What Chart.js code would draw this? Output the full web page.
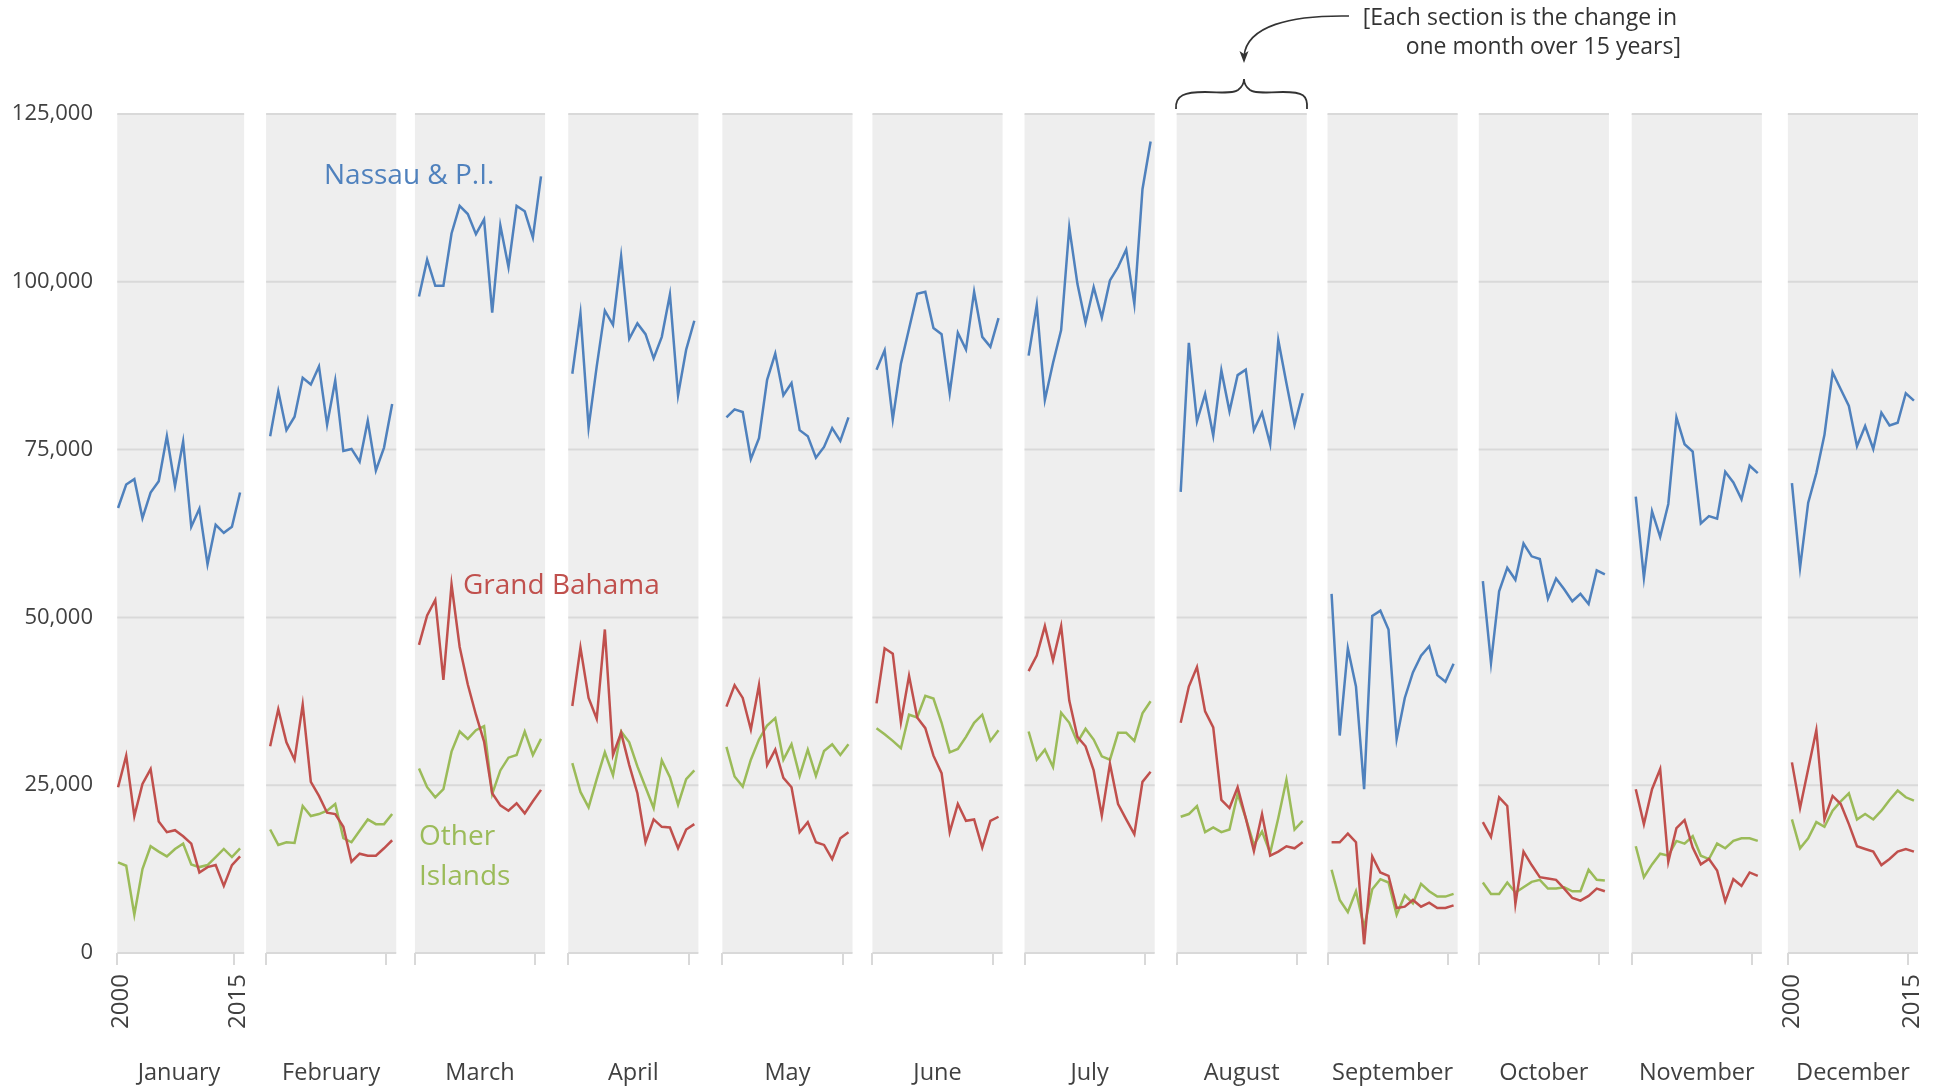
<!DOCTYPE html>
<html>
<head>
<meta charset="utf-8">
<script src="https://cdn.jsdelivr.net/npm/chart.js@4.4.1/dist/chart.umd.min.js"></script>
<style>
  html, body { margin: 0; padding: 0; background: #fff; }
  #wrap { position: relative; width: 1933px; height: 1090px; }
</style>
</head>
<body>
<div id="wrap"><canvas id="chart" width="1933" height="1090"></canvas></div>
<script>
// ------------------------------------------------------------
// Visitors by month, 2000-2015, one panel per month
// ------------------------------------------------------------
const MONTHS = ['January', 'February', 'March', 'April', 'May', 'June',
  'July', 'August', 'September', 'October', 'November', 'December'];
const YEARS = [2000, 2001, 2002, 2003, 2004, 2005, 2006, 2007,
  2008, 2009, 2010, 2011, 2012, 2013, 2014, 2015];
const Y_TICKS = [0, 25000, 50000, 75000, 100000, 125000];

// one row per month, 16 values (2000..2015)
const NASSAU = [
  [66300, 69800, 70600, 64800, 68600, 70300, 77000, 69600, 76200, 63500, 66200, 57900, 63800, 62600, 63500, 68600],
  [77000, 83700, 77900, 79900, 85700, 84700, 87400, 78700, 85300, 74800, 75100, 73200, 79300, 71900, 75300, 81800],
  [97800, 103300, 99400, 99400, 107200, 111300, 110100, 107100, 109300, 95400, 108400, 102200, 111300, 110500, 106600, 115700],
  [86300, 95300, 78300, 87400, 95700, 93600, 103800, 91500, 93800, 92200, 88600, 91800, 98100, 83100, 89900, 94200],
  [79800, 81000, 80600, 73600, 76700, 85400, 89300, 83100, 84900, 77900, 77000, 73800, 75400, 78200, 76300, 79800],
  [86900, 89800, 79500, 87800, 93000, 98200, 98500, 93100, 92200, 83400, 92400, 89900, 98500, 91800, 90300, 94600],
  [89000, 96500, 82400, 87900, 92800, 108100, 99700, 93900, 99200, 94700, 100200, 102200, 104800, 96700, 113800, 120900],
  [68700, 90900, 79200, 83300, 77100, 86800, 80700, 86100, 86900, 77900, 80500, 75800, 91300, 84900, 78700, 83400],
  [53500, 32400, 45400, 39700, 24400, 50200, 51000, 48200, 31900, 38000, 41800, 44300, 45700, 41400, 40400, 43100],
  [55400, 43200, 53900, 57400, 55600, 61000, 59100, 58700, 52800, 55800, 54200, 52400, 53500, 52000, 57000, 56400],
  [68000, 55900, 65800, 62000, 66900, 79800, 75800, 74700, 64000, 65100, 64700, 71700, 70100, 67600, 72600, 71500],
  [70000, 57400, 67100, 71500, 77200, 86500, 84000, 81500, 75500, 78500, 75100, 80500, 78600, 79000, 83400, 82300]
];

const GRAND_BAHAMA = [
  [24700, 29400, 20400, 25200, 27400, 19600, 18000, 18300, 17400, 16300, 12000, 12800, 13100, 10000, 13100, 14400],
  [30800, 36300, 31400, 28800, 37000, 25500, 23400, 20900, 20700, 18800, 13600, 14800, 14500, 14500, 15600, 16800],
  [45900, 50300, 52600, 40700, 54900, 45600, 40000, 35500, 31500, 23800, 22000, 21200, 22300, 20800, 22600, 24300],
  [36800, 45500, 38000, 34900, 48200, 29500, 32800, 28000, 23800, 16500, 19900, 18800, 18700, 15600, 18400, 19200],
  [36700, 39900, 38000, 33300, 39900, 28000, 30300, 26100, 24700, 18000, 19500, 16500, 16100, 14000, 17100, 18000],
  [37200, 45400, 44600, 34400, 41300, 35100, 33500, 29400, 26800, 18000, 22200, 19700, 19900, 15700, 19700, 20300],
  [42000, 44300, 48700, 43600, 48700, 37600, 32200, 30800, 27200, 20500, 28200, 22200, 19900, 17700, 25500, 27000],
  [34300, 39700, 42600, 36000, 33600, 22800, 21600, 24700, 20100, 15200, 20700, 14500, 15100, 15900, 15600, 16500],
  [16500, 16500, 17800, 16500, 1300, 14400, 12000, 11500, 6700, 6900, 7900, 6900, 7500, 6700, 6700, 7100],
  [19500, 17300, 23200, 21900, 7300, 15100, 13100, 11300, 11100, 10900, 9600, 8200, 7800, 8500, 9600, 9200],
  [24400, 19200, 24400, 27400, 13600, 18600, 19800, 15700, 13200, 14000, 12300, 7700, 11000, 10000, 12000, 11500],
  [28400, 21600, 27400, 33200, 19900, 23400, 22200, 19200, 15900, 15500, 15100, 13100, 14000, 15100, 15500, 15100]
];

const OTHER_ISLANDS = [
  [13500, 13000, 5700, 12500, 15900, 15100, 14400, 15500, 16300, 13200, 12800, 13100, 14300, 15500, 14300, 15600],
  [18400, 16100, 16500, 16400, 21900, 20400, 20700, 21200, 22200, 17100, 16500, 18200, 19900, 19200, 19200, 20700],
  [27500, 24700, 23200, 24400, 30000, 33000, 31900, 33200, 33800, 23700, 27200, 29100, 29500, 33000, 29500, 31900],
  [28300, 24000, 21700, 25900, 29900, 26500, 33000, 31400, 27800, 24700, 21600, 28700, 26200, 22100, 25900, 27200],
  [30700, 26300, 24800, 28800, 31800, 33900, 35000, 28800, 31100, 26400, 30300, 26400, 30100, 31100, 29500, 31100],
  [33500, 32600, 31600, 30500, 35500, 35100, 38300, 37900, 34300, 29900, 30400, 32200, 34300, 35500, 31600, 33200],
  [33000, 28800, 30300, 27700, 35800, 34300, 31400, 33400, 31800, 29300, 28800, 32800, 32800, 31600, 35700, 37500],
  [20300, 20700, 21900, 18000, 18700, 18000, 18400, 23700, 20100, 16100, 18100, 14900, 20100, 25800, 18400, 19700],
  [12400, 7900, 6100, 9200, 3800, 9500, 11000, 10500, 5700, 8600, 7400, 10300, 9200, 8400, 8400, 8800],
  [10500, 8800, 8800, 10500, 9000, 9800, 10600, 10900, 9600, 9600, 9800, 9200, 9200, 12400, 10900, 10800],
  [15900, 11300, 13200, 14800, 14500, 16700, 16300, 17400, 14500, 14000, 16300, 15600, 16700, 17100, 17100, 16700],
  [19900, 15600, 17100, 19500, 18800, 21200, 22600, 23800, 19900, 20700, 19900, 21200, 22800, 24200, 23200, 22700]
];

// panel geometry in x-units (1 unit = 1 year); panels are not evenly spaced
const PANEL_X = [0, 18.7, 37.0, 55.85, 74.8, 93.25, 111.95, 130.65, 149.2, 167.8, 186.6, 205.8];
const PANEL = 16;        // panel width
const FIRST_INSET = 0.4; // January panel starts a little right of the axis
const TICK_END = 14.8;   // second tick mark inside each panel
const X_MAX = PANEL_X[PANEL_X.length - 1] + PANEL;

const FONT = "'Open Sans', 'Noto Sans', sans-serif";
const TEXT = '#404040';
const COLORS = { nassau: '#4F81BD', grand: '#C0504D', other: '#9BBB59' };

const panelStart = (m) => PANEL_X[m] + (m === 0 ? FIRST_INSET : 0);

// flatten month rows into x/y points, null between months breaks the line
function toPoints(rows) {
  const pts = [];
  rows.forEach((row, m) => {
    row.forEach((v, i) => pts.push({ x: PANEL_X[m] + 0.5 + i, y: v }));
    pts.push({ x: PANEL_X[m] + PANEL + 0.5, y: null });
  });
  return pts;
}

function lineSet(label, rows, color) {
  return {
    label,
    data: toPoints(rows),
    borderColor: color,
    borderWidth: 2.5,
    pointRadius: 0,
    fill: false,
    tension: 0,
    spanGaps: false
  };
}

const panelPlugin = {
  id: 'panels',
  beforeDatasetsDraw(chart) {
    const { ctx, scales: { x, y } } = chart;
    const top = y.getPixelForValue(Y_TICKS[Y_TICKS.length - 1]);
    const bottom = y.getPixelForValue(0);
    ctx.save();
    MONTHS.forEach((_, m) => {
      const l = x.getPixelForValue(panelStart(m));
      const r = x.getPixelForValue(PANEL_X[m] + PANEL);
      ctx.fillStyle = '#eeeeee';
      ctx.fillRect(l, top, r - l, bottom - top);
      ctx.strokeStyle = '#d9d9d9';
      ctx.lineWidth = 2;
      Y_TICKS.forEach(v => {
        const py = y.getPixelForValue(v);
        ctx.beginPath();
        ctx.moveTo(l, py);
        ctx.lineTo(r, py);
        ctx.stroke();
      });
    });
    ctx.restore();
  },
  afterDraw(chart) {
    const { ctx } = chart;
    ctx.save();
    ctx.textBaseline = 'alphabetic';
    ctx.font = `28px ${FONT}`;
    ctx.fillStyle = COLORS.nassau;
    ctx.fillText('Nassau & P.I.', 324, 184);
    ctx.fillStyle = COLORS.grand;
    ctx.fillText('Grand Bahama', 463, 594);
    ctx.fillStyle = COLORS.other;
    ctx.fillText('Other', 419, 845);
    ctx.fillText('Islands', 419, 885);

    // note at top right of August
    ctx.fillStyle = '#333';
    ctx.font = `23px ${FONT}`;
    ctx.textAlign = 'right';
    ctx.fillText('[Each section is the change in', 1677, 25);
    ctx.fillText('one month over 15 years]', 1681, 54);

    // arrow
    ctx.strokeStyle = '#333';
    ctx.lineWidth = 1.6;
    ctx.beginPath();
    ctx.moveTo(1349, 16);
    ctx.bezierCurveTo(1290, 15, 1247, 26, 1244, 56);
    ctx.stroke();
    ctx.fillStyle = '#333';
    ctx.beginPath();
    ctx.moveTo(1244, 63);
    ctx.lineTo(1239.5, 51);
    ctx.lineTo(1244, 54);
    ctx.lineTo(1248.5, 51);
    ctx.closePath();
    ctx.fill();

    // brace over August
    ctx.lineWidth = 1.8;
    ctx.beginPath();
    ctx.moveTo(1176, 109);
    ctx.bezierCurveTo(1175, 95, 1185, 92, 1205, 92);
    ctx.bezierCurveTo(1220, 92, 1232, 94, 1238, 90);
    ctx.bezierCurveTo(1242, 87, 1244, 84, 1244, 79);
    ctx.bezierCurveTo(1244, 84, 1246, 87, 1250, 90);
    ctx.bezierCurveTo(1256, 94, 1268, 92, 1283, 92);
    ctx.bezierCurveTo(1303, 92, 1308, 95, 1307, 109);
    ctx.stroke();
    ctx.restore();
  }
};

// tick positions on the year axis: start and end of every panel
const yearTickValues = [];
MONTHS.forEach((_, m) => { yearTickValues.push(panelStart(m), PANEL_X[m] + TICK_END); });
const lastTick = yearTickValues.length - 1;

// keep the plot area where it is: no extra side padding for edge labels
function fixBottomAxis(h) {
  return (scale) => {
    scale.height = h;
    scale.paddingLeft = 0;
    scale.paddingRight = 0;
  };
}

new Chart(document.getElementById('chart'), {
  type: 'line',
  data: {
    datasets: [
      lineSet('Nassau & P.I.', NASSAU, COLORS.nassau),
      lineSet('Grand Bahama', GRAND_BAHAMA, COLORS.grand),
      lineSet('Other Islands', OTHER_ISLANDS, COLORS.other)
    ]
  },
  options: {
    responsive: false,
    animation: false,
    devicePixelRatio: 1,
    layout: { padding: { top: 114, right: 15, left: 0, bottom: 0 } },
    plugins: { legend: { display: false }, tooltip: { enabled: false } },
    scales: {
      y: {
        min: 0,
        max: 125000,
        afterBuildTicks: (scale) => { scale.ticks = Y_TICKS.map(v => ({ value: v })); },
        afterFit: (scale) => { scale.width = 114; },
        grid: { display: false, drawTicks: false },
        border: { display: false },
        ticks: {
          padding: 21,
          color: TEXT,
          font: { family: FONT, size: 22 },
          callback: (v) => v.toLocaleString('en-US')
        }
      },
      x: {
        type: 'linear',
        position: 'bottom',
        weight: 0,
        min: 0,
        max: X_MAX,
        afterBuildTicks: (scale) => { scale.ticks = yearTickValues.map(v => ({ value: v })); },
        afterFit: fixBottomAxis(78.5),
        grid: { display: true, drawOnChartArea: false, drawTicks: true, tickLength: 12, color: '#d9d9d9', lineWidth: 2 },
        border: { display: false },
        ticks: {
          autoSkip: false,
          minRotation: 90,
          maxRotation: 90,
          padding: 9,
          labelOffset: 4,
          color: TEXT,
          font: { family: FONT, size: 24 },
          callback: (v, i) => {
            if (i === 0 || i === lastTick - 1) return String(YEARS[0]);
            if (i === 1 || i === lastTick) return String(YEARS[YEARS.length - 1]);
            return '';
          }
        }
      },
      x2: {
        type: 'linear',
        position: 'bottom',
        weight: 1,
        min: 0,
        max: X_MAX,
        afterBuildTicks: (scale) => { scale.ticks = MONTHS.map((_, m) => ({ value: PANEL_X[m] + PANEL / 2 })); },
        afterFit: fixBottomAxis(58.5),
        grid: { display: false, drawTicks: false },
        border: { display: false },
        ticks: {
          autoSkip: false,
          maxRotation: 0,
          padding: 28,
          color: TEXT,
          font: { family: FONT, size: 23.5 },
          callback: (v, i) => MONTHS[i]
        }
      }
    }
  },
  plugins: [panelPlugin]
});
</script>
</body>
</html>
